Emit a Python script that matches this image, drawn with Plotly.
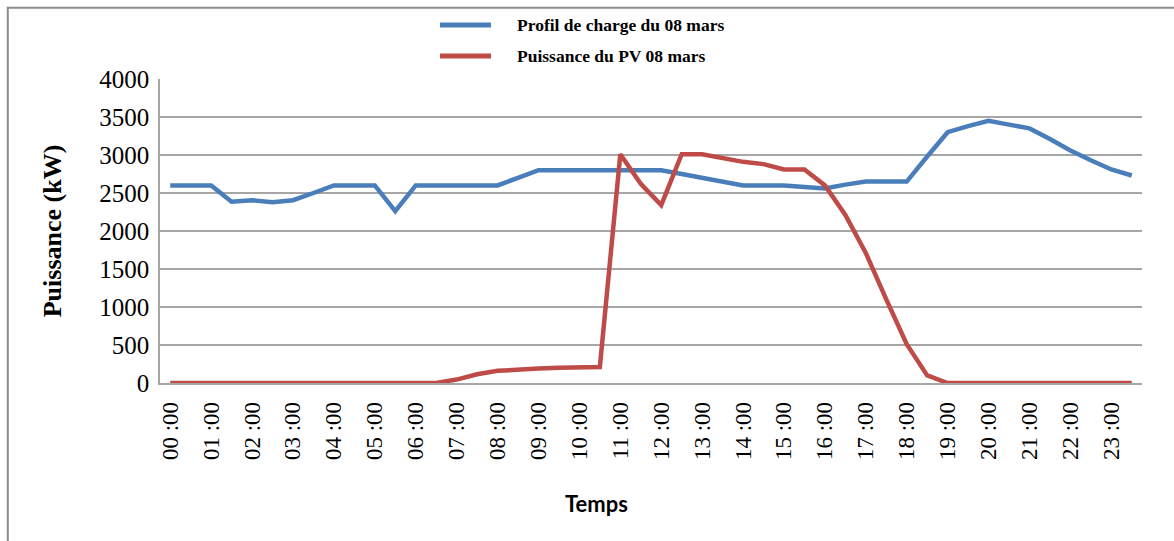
import plotly.graph_objects as go

# Half-hour time steps over the day
hours = ["00", "01", "02", "03", "04", "05", "06", "07", "08", "09", "10", "11",
         "12", "13", "14", "15", "16", "17", "18", "19", "20", "21", "22", "23"]
times = [f"{h}:{m}" for h in hours for m in ("00", "30")]

# Hour tick labels as printed under the axis
tick_times = [f"{h}:00" for h in hours]
tick_labels = [f"{h} :00" for h in hours]

# Load profile (kW)
charge = [2600, 2600, 2600, 2385, 2405, 2380, 2405, 2500,
          2600, 2600, 2600, 2260, 2600, 2600, 2600, 2600,
          2600, 2700, 2800, 2800, 2800, 2800, 2800, 2800,
          2800, 2750, 2700, 2650, 2600, 2600, 2600, 2580,
          2560, 2610, 2650, 2650, 2650, 2980, 3300, 3380,
          3450, 3400, 3350, 3210, 3060, 2930, 2810, 2730]

# PV output (kW)
pv = [0, 0, 0, 0, 0, 0, 0, 0,
      0, 0, 0, 0, 0, 0, 45, 115,
      160, 180, 190, 200, 205, 210, 3010, 2620,
      2340, 3010, 3010, 2960, 2910, 2880, 2810, 2810,
      2600, 2210, 1710, 1100, 510, 100, 0, 0,
      0, 0, 0, 0, 0, 0, 0, 0]

series_names = ["Profil de charge du 08 mars", "Puissance du PV 08 mars"]

BLUE = "#4A7EBB"
RED = "#BE4B48"
GRID = "#A6A6A6"
SERIF = "Liberation Serif, Times New Roman, serif"

fig = go.Figure()
fig.add_trace(go.Scatter(
    x=times, y=charge, mode="lines", name=series_names[0],
    line=dict(color=BLUE, width=4.5),
))
fig.add_trace(go.Scatter(
    x=times, y=pv, mode="lines", name=series_names[1],
    line=dict(color=RED, width=4.5),
))

# Legend drawn as a key above the plot: a line sample and a bold label per series
legend_rows = [(series_names[0], BLUE, 1.178), (series_names[1], RED, 1.076)]
legend_shapes = [
    dict(type="line", xref="paper", yref="paper", x0=0.2851, x1=0.3371,
         y0=yy, y1=yy, line=dict(color=col, width=5))
    for _, col, yy in legend_rows
]
legend_texts = [
    dict(text=name, xref="paper", yref="paper", x=0.3615, y=yy,
         xanchor="left", yanchor="middle", showarrow=False,
         font=dict(family=SERIF, size=17.5, color="#000000", weight="bold"))
    for name, _, yy in legend_rows
]

fig.update_layout(
    width=1174, height=541,
    margin=dict(l=160, r=32, t=79, b=158),
    paper_bgcolor="white", plot_bgcolor="white",
    showlegend=False,
    xaxis=dict(
        type="category", categoryorder="array", categoryarray=times,
        range=[-0.5, 47.5],
        tickmode="array", tickvals=tick_times, ticktext=tick_labels,
        tickangle=-90, ticklabelstandoff=8,
        tickfont=dict(family=SERIF, size=23, color="#000000"),
        showgrid=False, showline=True, linecolor=GRID, linewidth=1.5,
        zeroline=False, ticks="",
    ),
    yaxis=dict(
        range=[0, 4000], tickmode="array",
        tickvals=[0, 500, 1000, 1500, 2000, 2500, 3000, 3500, 4000],
        tickfont=dict(family=SERIF, size=25, color="#000000"),
        ticklabelstandoff=4,
        showgrid=True, gridcolor=GRID, gridwidth=1.5,
        showline=True, linecolor=GRID, linewidth=1.5,
        zeroline=False, ticks="",
        title=dict(text="Puissance (kW)", standoff=30,
                   font=dict(family=SERIF, size=26, color="#000000", weight="bold")),
    ),
    annotations=legend_texts + [dict(
        text="Temps", xref="paper", yref="paper",
        x=0.445, y=-0.395, xanchor="center", yanchor="middle",
        showarrow=False,
        font=dict(family="Lato, Liberation Sans, sans-serif", size=22,
                  color="#000000", weight="bold"),
    )],
    shapes=legend_shapes + [dict(
        type="rect", xref="paper", yref="paper",
        x0=-0.155, x1=1.2, y0=-0.8, y1=1.234,
        line=dict(color="#8C8C8C", width=2), fillcolor="rgba(0,0,0,0)",
        layer="below",
    )],
)

fig.write_html("out.html")
